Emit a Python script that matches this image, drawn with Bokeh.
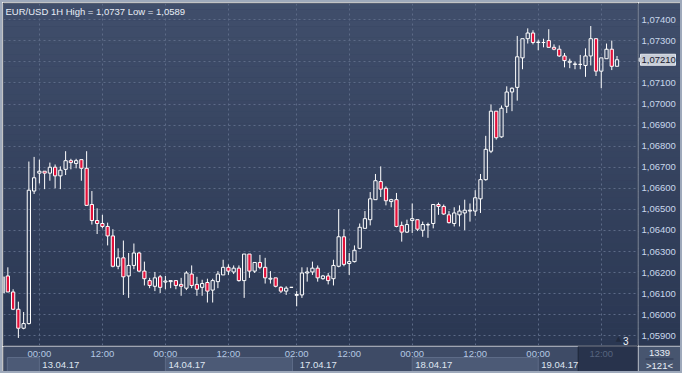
import numpy as np
from bokeh.plotting import figure
from bokeh.layouts import column, row
from bokeh.models import Label, Range1d, FixedTicker
from bokeh.core.properties import value
from bokeh.embed import file_html
from bokeh.resources import INLINE

TITLE = "EUR/USD 1H High = 1,0737 Low = 1,0589"

OPEN = [1.06103, 1.06184, 1.06108, 1.06026, 1.05936, 1.05958, 1.06587, 1.06672, 1.06681, 1.06672,
        1.06700, 1.06659, 1.06690, 1.06731, 1.06718, 1.06736, 1.06695, 1.06523, 1.06447, 1.06433,
        1.06419, 1.06374, 1.06230, 1.06270, 1.06184, 1.06234, 1.06293, 1.06207, 1.06162, 1.06135,
        1.06180, 1.06155, 1.06157, 1.06162, 1.06144, 1.06126, 1.06193, 1.06144, 1.06130, 1.06153,
        1.06117, 1.06157, 1.06189, 1.06225, 1.06203, 1.06221, 1.06162, 1.06288, 1.06207, 1.06248,
        1.06225, 1.06169, 1.06175, 1.06130, 1.06112, 1.06130, 1.06092, 1.06094, 1.06198, 1.06203,
        1.06221, 1.06171, 1.06184, 1.06171, 1.06230, 1.06370, 1.06243, 1.06252, 1.06315, 1.06410,
        1.06451, 1.06546, 1.06632, 1.06600, 1.06537, 1.06546, 1.06424, 1.06392, 1.06447, 1.06451,
        1.06401, 1.06426, 1.06433, 1.06523, 1.06514, 1.06474, 1.06433, 1.06474, 1.06483, 1.06492,
        1.06492, 1.06550, 1.06641, 1.06776, 1.06966, 1.06844, 1.06989, 1.07057, 1.07079, 1.07219,
        1.07310, 1.07337, 1.07292, 1.07292, 1.07301, 1.07269, 1.07260, 1.07228, 1.07198, 1.07188,
        1.07188, 1.07183, 1.07228, 1.07310, 1.07156, 1.07215, 1.07260, 1.07179]
HIGH = [1.06180, 1.06225, 1.06121, 1.06062, 1.06013, 1.06727, 1.06749, 1.06736, 1.06681, 1.06722,
        1.06713, 1.06704, 1.06776, 1.06740, 1.06740, 1.06736, 1.06776, 1.06587, 1.06505, 1.06474,
        1.06437, 1.06406, 1.06315, 1.06352, 1.06293, 1.06338, 1.06297, 1.06252, 1.06175, 1.06203,
        1.06189, 1.06184, 1.06162, 1.06162, 1.06175, 1.06207, 1.06234, 1.06180, 1.06166, 1.06171,
        1.06171, 1.06207, 1.06261, 1.06239, 1.06234, 1.06234, 1.06288, 1.06288, 1.06248, 1.06284,
        1.06270, 1.06207, 1.06175, 1.06135, 1.06135, 1.06131, 1.06112, 1.06225, 1.06225, 1.06252,
        1.06234, 1.06189, 1.06198, 1.06261, 1.06501, 1.06406, 1.06293, 1.06329, 1.06433, 1.06492,
        1.06582, 1.06668, 1.06704, 1.06609, 1.06550, 1.06578, 1.06442, 1.06451, 1.06528, 1.06451,
        1.06442, 1.06437, 1.06523, 1.06532, 1.06523, 1.06492, 1.06510, 1.06519, 1.06546, 1.06528,
        1.06591, 1.06668, 1.06849, 1.06998, 1.06966, 1.06993, 1.07084, 1.07079, 1.07323, 1.07310,
        1.07359, 1.07350, 1.07305, 1.07310, 1.07355, 1.07283, 1.07278, 1.07242, 1.07215, 1.07201,
        1.07233, 1.07264, 1.07370, 1.07310, 1.07219, 1.07287, 1.07301, 1.07228]
LOW = [1.06103, 1.06108, 1.06022, 1.05890, 1.05931, 1.05954, 1.06573, 1.06623, 1.06596, 1.06636,
       1.06600, 1.06596, 1.06663, 1.06690, 1.06695, 1.06636, 1.06519, 1.06428, 1.06383, 1.06410,
       1.06329, 1.06225, 1.06216, 1.06094, 1.06080, 1.06216, 1.06203, 1.06139, 1.06126, 1.06112,
       1.06103, 1.06121, 1.06126, 1.06121, 1.06090, 1.06117, 1.06126, 1.06090, 1.06090, 1.06058,
       1.06058, 1.06126, 1.06189, 1.06189, 1.06193, 1.06157, 1.06080, 1.06175, 1.06198, 1.06216,
       1.06148, 1.06148, 1.06130, 1.06103, 1.06094, 1.06128, 1.06040, 1.06080, 1.06157, 1.06189,
       1.06157, 1.06166, 1.06144, 1.06139, 1.06225, 1.06230, 1.06189, 1.06248, 1.06311, 1.06410,
       1.06424, 1.06546, 1.06559, 1.06519, 1.06510, 1.06415, 1.06347, 1.06388, 1.06388, 1.06397,
       1.06370, 1.06365, 1.06410, 1.06474, 1.06474, 1.06433, 1.06419, 1.06419, 1.06401, 1.06442,
       1.06469, 1.06483, 1.06636, 1.06767, 1.06831, 1.06840, 1.06957, 1.06966, 1.07016, 1.07165,
       1.07287, 1.07283, 1.07255, 1.07269, 1.07269, 1.07255, 1.07224, 1.07174, 1.07170, 1.07165,
       1.07165, 1.07129, 1.07183, 1.07133, 1.07075, 1.07215, 1.07161, 1.07179]
CLOSE = [1.06180, 1.06108, 1.06026, 1.05936, 1.05958, 1.06591, 1.06650, 1.06681, 1.06672, 1.06700,
         1.06659, 1.06686, 1.06731, 1.06722, 1.06731, 1.06695, 1.06519, 1.06447, 1.06433, 1.06419,
         1.06374, 1.06230, 1.06270, 1.06180, 1.06234, 1.06293, 1.06207, 1.06171, 1.06139, 1.06175,
         1.06130, 1.06160, 1.06162, 1.06139, 1.06135, 1.06198, 1.06139, 1.06121, 1.06148, 1.06112,
         1.06162, 1.06193, 1.06225, 1.06207, 1.06221, 1.06162, 1.06288, 1.06207, 1.06248, 1.06225,
         1.06175, 1.06173, 1.06135, 1.06112, 1.06126, 1.06130, 1.06096, 1.06198, 1.06203, 1.06221,
         1.06175, 1.06184, 1.06162, 1.06234, 1.06370, 1.06239, 1.06252, 1.06306, 1.06415, 1.06456,
         1.06550, 1.06636, 1.06596, 1.06541, 1.06546, 1.06419, 1.06392, 1.06428, 1.06456, 1.06406,
         1.06428, 1.06428, 1.06523, 1.06514, 1.06478, 1.06437, 1.06483, 1.06492, 1.06496, 1.06496,
         1.06555, 1.06641, 1.06785, 1.06966, 1.06840, 1.06980, 1.07057, 1.07075, 1.07224, 1.07310,
         1.07337, 1.07292, 1.07294, 1.07292, 1.07269, 1.07260, 1.07228, 1.07206, 1.07203, 1.07190,
         1.07188, 1.07228, 1.07310, 1.07156, 1.07219, 1.07260, 1.07179, 1.07210]

LAST_PRICE = 1.0721
Y_TICKS = [1.059, 1.060, 1.061, 1.062, 1.063, 1.064, 1.065, 1.066, 1.067, 1.068,
           1.069, 1.070, 1.071, 1.072, 1.073, 1.074]
TIME_TICKS = [7, 19, 31, 43, 56, 66, 78, 90, 102, 114]
TIME_LABELS = ["00:00", "12:00", "00:00", "12:00", "02:00", "12:00", "00:00", "12:00", "00:00", "12:00"]
DATE_LABELS = ["", "13.04.17", "14.04.17", "17.04.17", "18.04.17", "19.04.17"]
DATE_START = [0.9, 7, 31, 56, 78, 102]
DATE_END = [7, 31, 55.2, 78, 102, 109.6]
BAR_COUNT = "1339"
VISIBLE = ">121<"
MARK = "3"

X0, X1 = 0.17, 120.9
Y0, Y1 = 1.05854, 1.07477
FONT = "Liberation Sans"
FS = "9.5px"
EDGE = "#0c1018"
GRID = "#5c6a87"

def fmt(v):
    return ("%.5f" % v).replace(".", ",")

def gradient(fig, x_lo, x_hi, n=60):
    edges = np.linspace(Y0, Y1, n + 1)
    top_rgb = np.array([64, 78, 107])
    bot_rgb = np.array([42, 55, 82])
    cols = []
    for k in range(n):
        t = (k + 0.5) / n
        c = bot_rgb + (top_rgb - bot_rgb) * t
        cols.append("#%02x%02x%02x" % tuple(int(round(v)) for v in c))
    fig.quad(left=x_lo, right=x_hi, bottom=edges[:-1], top=edges[1:], fill_color=cols,
             line_color=None, level="image")

x = list(range(len(OPEN)))
btop = [max(o, c) for o, c in zip(OPEN, CLOSE)]
bbot = [min(o, c) for o, c in zip(OPEN, CLOSE)]
up = [i for i in x if CLOSE[i] >= OPEN[i]]
dn = [i for i in x if CLOSE[i] < OPEN[i]]

common = dict(output_backend="svg", toolbar_location=None)

# ---- main price pane (axes hidden, their grids kept)
p = figure(width=636, height=344, x_range=Range1d(X0, X1), y_range=Range1d(Y0, Y1),
           min_border_left=1, min_border_right=1, min_border_top=1, min_border_bottom=1, **common)
p.background_fill_color = "#35425f"
p.border_fill_color = EDGE
p.outline_line_color = None
p.xaxis.ticker = FixedTicker(ticks=TIME_TICKS)
p.yaxis.ticker = FixedTicker(ticks=Y_TICKS)
p.xgrid.ticker = p.xaxis[0].ticker
p.ygrid.ticker = p.yaxis[0].ticker
p.xaxis.visible = False
p.yaxis.visible = False
for g in (p.xgrid, p.ygrid):
    g.grid_line_color = GRID
    g.grid_line_dash = "2 3"
    g.grid_line_width = 1
gradient(p, X0 - 1, X1 + 1)

p.segment(x0=x, y0=HIGH, x1=x, y1=btop, line_color="white", line_width=1)
p.segment(x0=x, y0=bbot, x1=x, y1=LOW, line_color="white", line_width=1)
p.vbar(x=[x[i] for i in up], width=0.62, top=[btop[i] for i in up], bottom=[bbot[i] for i in up],
       fill_alpha=0, line_color="white", line_width=1)
p.vbar(x=[x[i] for i in dn], width=0.62, top=[btop[i] for i in dn], bottom=[bbot[i] for i in dn],
       fill_color="#e3103a", line_color="white", line_width=1)

p.add_layout(Label(x=X0, y=Y1, x_offset=2, y_offset=-2, text=TITLE, text_baseline="top",
                   text_font_size=FS, text_font=FONT, text_color="#e8edf6"))
p.add_layout(Label(x=X1, y=Y0, x_offset=-19, y_offset=3, text="\u25b2", text_baseline="bottom",
                   text_align="center", text_font_size="7px", text_font="DejaVu Sans",
                   text_color="#222b3f"))
p.add_layout(Label(x=X1, y=Y0, x_offset=-9, y_offset=1, text=MARK, text_baseline="bottom",
                   text_align="right", text_font_size="10px", text_font=FONT, text_color="#eef2f8"))

# ---- right price scale
a = figure(width=42, height=344, x_range=Range1d(0, 42), y_range=p.y_range,
           x_axis_location=None, y_axis_location=None,
           min_border_left=0, min_border_right=0, min_border_top=1, min_border_bottom=1, **common)
a.background_fill_color = "#35425f"
a.border_fill_color = EDGE
a.outline_line_color = None
a.grid.visible = False
gradient(a, -1, 43)
shown = [t for t in Y_TICKS if abs(t - LAST_PRICE) > 0.0003]
a.text(x=3, y=shown, text=[fmt(t) for t in shown], text_align="left", text_baseline="middle",
       text_font_size=FS, text_font=value(FONT), text_color="#c9d7ec")
a.rect(x=19.5, y=LAST_PRICE, width=35, height=11, width_units="screen", height_units="screen",
       fill_color="#c6ccd6", line_color="#e4e8ee")
a.scatter(x=1.2, y=LAST_PRICE, marker="triangle", size=7, angle=np.pi / 2,
          fill_color="#c6ccd6", line_color=None)
a.text(x=[3], y=[LAST_PRICE], text=[fmt(LAST_PRICE)], text_align="left", text_baseline="middle",
       text_font_size=FS, text_font=value(FONT), text_color="#1a2030")

# ---- bottom time panel
q = figure(width=636, height=25, x_range=p.x_range, y_range=Range1d(0, 1),
           x_axis_location=None, y_axis_location=None,
           min_border_left=1, min_border_right=1, min_border_top=0, min_border_bottom=0, **common)
q.background_fill_color = "#3e4b66"
q.border_fill_color = EDGE
q.outline_line_color = None
q.grid.visible = False
light = [i for i in range(len(DATE_START)) if i % 2 == 0]
q.quad(left=[DATE_START[i] for i in light], right=[DATE_END[i] for i in light],
       bottom=0.0, top=0.56, fill_color="#4c5a76", line_color="#5d6b87")
q.quad(left=[DATE_END[-1]], right=[X1 + 1], bottom=0, top=1, fill_color="#28334c",
       line_color="#1e2638")
q.text(x=TIME_TICKS[:-1], y=0.74, text=TIME_LABELS[:-1], text_align="center",
       text_baseline="middle", text_font_size=FS, text_font=value(FONT), text_color="#b4c8e3")
q.text(x=TIME_TICKS[-1:], y=0.74, text=TIME_LABELS[-1:], text_align="center",
       text_baseline="middle", text_font_size=FS, text_font=value(FONT), text_color="#56647f")
q.text(x=DATE_START[1:], y=0.27, text=DATE_LABELS[1:], x_offset=3, text_align="left",
       text_baseline="middle", text_font_size=FS, text_font=value(FONT), text_color="#dfe6f1")

# ---- bottom right info cell
r = figure(width=42, height=25, x_range=Range1d(0, 42), y_range=Range1d(0, 1),
           x_axis_location=None, y_axis_location=None,
           min_border_left=0, min_border_right=0, min_border_top=0, min_border_bottom=0, **common)
r.background_fill_color = "#47556f"
r.border_fill_color = EDGE
r.outline_line_color = None
r.grid.visible = False
r.segment(x0=7, y0=0.5, x1=35, y1=0.5, line_color="#2c3650", line_width=1)
r.text(x=21, y=[0.74, 0.26], text=[BAR_COUNT, VISIBLE], text_align="center",
       text_baseline="middle", text_font_size=FS, text_font=value(FONT), text_color="#e8edf6")

layout = column(row(p, a, spacing=0), row(q, r, spacing=0), spacing=0,
                styles={"border": "2px solid #9ea9bb"})
open("out.html", "w").write(file_html(layout, INLINE))
